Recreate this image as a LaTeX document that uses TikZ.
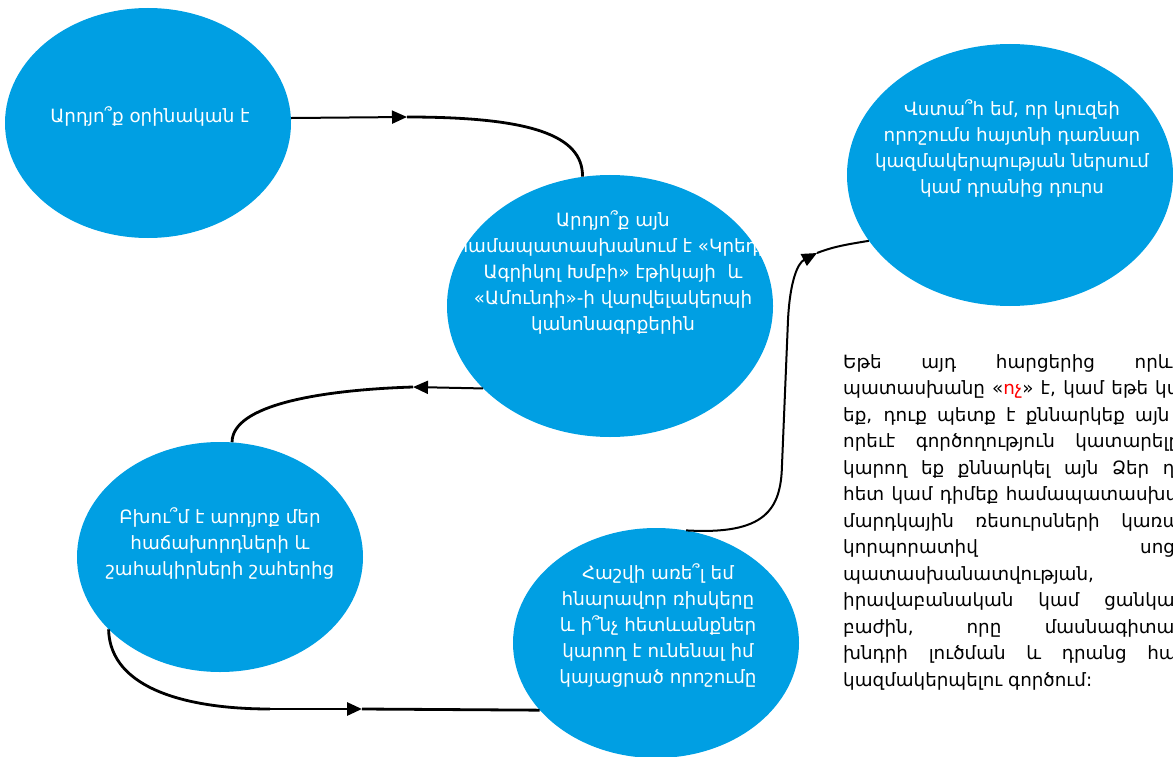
\documentclass[tikz,border=0pt]{standalone}
\usepackage{fontspec}
\setmainfont{DejaVu Sans}
\usetikzlibrary{arrows.meta}
\usetikzlibrary{shapes.geometric}
\usetikzlibrary{positioning}
\definecolor{bubbleblue}{RGB}{0,159,227}
\tikzset{
  bubble/.style={ellipse, fill=bubbleblue, inner sep=0pt},
  small bubble/.style={bubble, minimum width=286pt, minimum height=230pt},
  big bubble/.style={bubble, minimum width=326pt, minimum height=262pt},
  bubbletext/.style={text=white, align=center, inner sep=0pt,
    font=\fontsize{18.3}{26}\selectfont},
  link/.style={line width=2.8pt},
  thin link/.style={line width=2pt},
  tip/.style={-{Triangle[length=15pt,width=13pt]}},
}

\begin{document}
\begin{tikzpicture}[x=1pt,y=-1pt]
  \useasboundingbox (0,0) rectangle (1173,757);

  % bubbles
  \node[small bubble] (legal) at (148,123) {};
  \node[big bubble] (ethics) at (610,306) {};
  \node[big bubble] (public) at (1010,175) {};
  \node[small bubble] (clients) at (220,557) {};
  \node[small bubble] (risks) at (656,643) {};

  % texts in the bubbles
  \node[bubbletext] (legaltxt) at (150,116) {Արդյո՞ք օրինական է};
  \begin{scope}
    \clip (459,0) rectangle (762,757);
    \node[bubbletext] (ethicstxt) at (613,272) {Արդյո՞ք այն\\
      համապատասխանում է «Կրեդի\\
      Ագրիկոլ Խմբի» էթիկայի\ \ և\\
      «Ամունդի»-ի վարվելակերպի\\
      կանոնագրքերին};
  \end{scope}
  \node[bubbletext] (publictxt) at (1012,148) {Վստա՞հ եմ, որ կուզեի\\
    որոշումս հայտնի դառնար\\
    կազմակերպության ներսում\\
    կամ դրանից դուրս};
  \node[bubbletext] (clientstxt) at (220,543) {Բխու՞մ է արդյոք մեր\\
    հաճախորդների և\\
    շահակիրների շահերից};
  \node[bubbletext] (riskstxt) at (658,625) {Հաշվի առե՞լ եմ\\
    հնարավոր ռիսկերը\\
    և ի՞նչ հետևանքներ\\
    կարող է ունենալ իմ\\
    կայացրած որոշումը};

  % side note
  \node[anchor=north west, inner sep=0pt, text width=425pt, align=justify,
    font=\fontsize{18.3}{26.5}\selectfont]
    (note) at (843,354) {\hyphenpenalty=10000\exhyphenpenalty=10000
    Եթե այդ հարցերից որևէ մեկի\linebreak
    պատասխանը «{\color{red}ոչ}» է, կամ եթե կասկածում\linebreak
    եք, դուք պետք է քննարկեք այն նախքան\linebreak
    որեւէ գործողություն կատարելը: Դուք\linebreak
    կարող եք քննարկել այն Ձեր ղեկավարի\linebreak
    հետ կամ դիմեք համապատասխանության,\linebreak
    մարդկային ռեսուրսների կառավարման,\linebreak
    կորպորատիվ սոցիալական\linebreak
    պատասխանատվության,\\
    իրավաբանական կամ ցանկացած այլ\linebreak
    բաժին, որը մասնագիտացած է\linebreak
    խնդրի լուծման և դրանց հաշվառման\linebreak
    կազմակերպելու գործում:};

  % connectors
  \coordinate (c1) at (407,117);
  \coordinate (c2) at (413,387);
  \coordinate (c3) at (270,709);
  \coordinate (c4) at (362,709);
  \coordinate (c5) at (817,253);

  \draw[thin link, tip] (legal.2) -- (c1);
  \draw[link] (c1) .. controls (530,117) and (583,135) .. (ethics.102);

  \draw[thin link, tip] (ethics.213) -- (c2);
  \draw[link] (c2) .. controls (320,390) and (232,405) .. (clients.84);

  \draw[link] (clients.213) .. controls (110,690) and (190,709) .. (c3);
  \draw[link, tip] (c3) -- (c4);
  \draw[link] (c4) -- (risks.210);

  \draw[thin link, tip] (risks.75) .. controls (765,535) and (781,510) .. (782,465)
    -- (788,320) .. controls (790,280) and (798,263) .. (c5);
  \draw[thin link] (c5) .. controls (835,246) and (850,244) .. (public.205);
\end{tikzpicture}
\end{document}
